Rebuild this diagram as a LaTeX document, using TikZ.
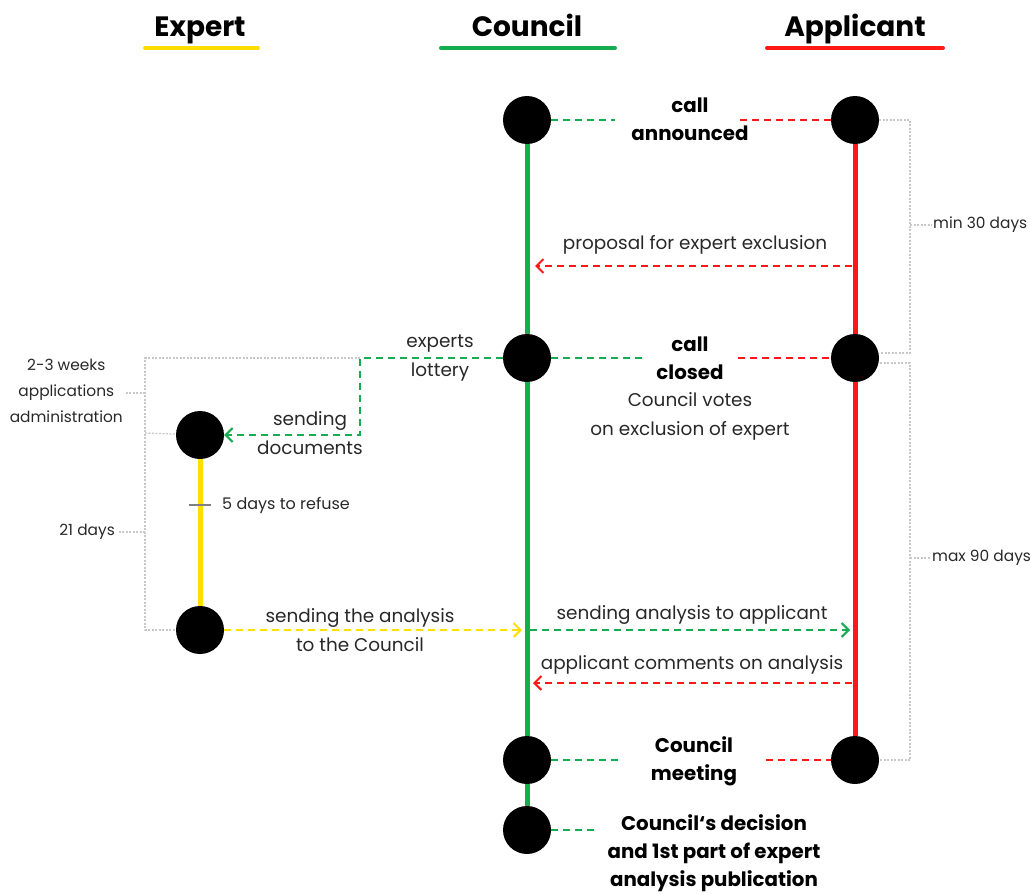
\documentclass[tikz,border=0pt]{standalone}
\usepackage{fontspec}
\setmainfont{Poppins}
\usetikzlibrary{arrows.meta}
\definecolor{cgreen}{RGB}{22,172,80}
\definecolor{cred}{RGB}{255,24,24}
\definecolor{cyellow}{RGB}{255,222,0}
\definecolor{cgrey}{RGB}{200,200,200}
\definecolor{ctext}{RGB}{40,40,40}
\tikzset{
  dot/.style={circle, fill=black, minimum size=48pt, inner sep=0pt},
  gline/.style={cgreen, line width=5pt},
  rline/.style={cred, line width=5pt},
  yline/.style={cyellow, line width=5pt},
  gdash/.style={cgreen, line width=2pt, dash pattern=on 7pt off 5pt},
  rdash/.style={cred, line width=2pt, dash pattern=on 7pt off 5pt},
  ydash/.style={cyellow, line width=2pt, dash pattern=on 7pt off 5pt},
  arr/.style={-{Straight Barb[length=7pt,width=14pt,line width=2pt]}},
  brk/.style={cgrey, line width=1.3pt, dash pattern=on 2pt off 1.5pt},
  lbl/.style={font=\fontsize{18.4}{29}\selectfont, align=center, text=ctext, inner sep=0pt},
  blbl/.style={font=\fontsize{19.8}{28}\selectfont\bfseries, align=center, text=black, inner sep=0pt},
  small/.style={font=\fontsize{15.4}{26}\selectfont, align=center, text=ctext, inner sep=0pt},
  head/.style={font=\fontsize{28}{30}\selectfont\bfseries, text=black, inner sep=0pt, anchor=base},
  uline/.style={line width=4pt, line cap=round},
}
\begin{document}
\begin{tikzpicture}[x=1pt,y=-1pt]
\useasboundingbox (0,0) rectangle (1031,894);
% headers
\node[head] (hE) at (200,36) {Expert};
\node[head] (hC) at (527,36) {Council};
\node[head] (hA) at (855,36) {Applicant};
\draw[uline, cyellow] (145,48) -- (258,48);
\draw[uline, cgreen] (441,48) -- (615,48);
\draw[uline, cred] (767,48) -- (943,48);

% dots
\node[dot] (e1) at (200,435) {};
\node[dot] (e2) at (200,630) {};
\node[dot] (c1) at (527,120) {};
\node[dot] (c2) at (527,358) {};
\node[dot] (c3) at (527,760) {};
\node[dot] (c4) at (527,830) {};
\node[dot] (a1) at (855,120) {};
\node[dot] (a2) at (855,358) {};
\node[dot] (a3) at (855,760) {};

% lifelines
\draw[gline] (c1) -- (c2) -- (c3) -- (c4);
\draw[rline] (a1) -- (a2) -- (a3);
\draw[yline] (e1) -- (e2);

% call announced
\coordinate (g1) at (615,120);
\coordinate (r1) at (740,120);
\draw[gdash] (c1) -- (g1);
\draw[rdash] (r1) -- (a1);
\node[blbl] (t1) at (690,119) {call\\announced};

% proposal
\coordinate (p1) at (852,266);
\coordinate (p2) at (535,266);
\draw[rdash, arr] (p1) -- (p2);
\node[lbl] (t2) at (695,245) {proposal for expert exclusion};

% call closed
\coordinate (g2) at (645,358);
\coordinate (r2) at (738,358);
\draw[gdash] (c2) -- (g2);
\draw[rdash] (r2) -- (a2);
\node[blbl] (t3) at (690,358) {call\\closed};
\node[lbl] (t4) at (690,416) {Council votes\\on exclusion of expert};

% lottery
\coordinate (lot) at (360,358);
\draw[gdash, arr] (c2) -- (lot) |- (e1);
\node[lbl] (t5) at (440,358) {experts\\lottery};
\node[lbl] (t6) at (310,433) {sending\\documents};

% five days
\coordinate (k1) at (189,505);
\coordinate (k2) at (211,505);
\draw[gray, line width=1.3pt] (k1) -- (k2);
\node[small, anchor=west, font=\fontsize{16}{26}\selectfont] (t7) at (222,505) {5 days to refuse};

% analysis to council
\coordinate (s1) at (522,630);
\draw[ydash, arr] (e2) -- (s1);
\node[lbl] (t8) at (360,630) {sending the analysis\\to the Council};

% analysis to applicant
\coordinate (s2) at (530,630);
\coordinate (s3) at (850,630);
\draw[gdash, arr] (s2) -- (s3);
\node[lbl] (t9) at (692,615) {sending analysis to applicant};

% comments
\coordinate (s4) at (852,683);
\coordinate (s5) at (533,683);
\draw[rdash, arr] (s4) -- (s5);
\node[lbl] (t10) at (692,665) {applicant comments on analysis};

% meeting
\coordinate (g3) at (620,760);
\coordinate (r3) at (766,760);
\draw[gdash] (c3) -- (g3);
\draw[rdash] (r3) -- (a3);
\node[blbl] (t11) at (694,761) {Council\\meeting};

% decision
\coordinate (g4) at (595,830);
\draw[gdash] (c4) -- (g4);
\node[blbl] (t12) at (714,853) {Council\char"60 s decision\\and 1st part of expert\\analysis publication};

% right brackets
\coordinate (b1) at (910,120);
\coordinate (b2) at (910,353);
\coordinate (b2e) at (880,353);
\draw[brk] (a1) -- (b1) -- (b2) -- (b2e);
\coordinate (m1) at (910,225);
\coordinate (m1e) at (932,225);
\draw[brk] (m1) -- (m1e);
\node[small, anchor=west] (t13) at (933,225) {min 30 days};
\coordinate (b3s) at (880,363);
\coordinate (b3) at (910,363);
\coordinate (b4) at (910,760);
\draw[brk] (b3s) -- (b3) -- (b4) -- (a3);
\coordinate (m2) at (910,558);
\coordinate (m2e) at (931,558);
\draw[brk] (m2) -- (m2e);
\node[small, anchor=west] (t14) at (932,558) {max 90 days};

% left brackets
\coordinate (l1) at (145,358);
\coordinate (l2) at (145,630);
\coordinate (l3) at (145,433);
\draw[brk] (lot) -- (l1) -- (l2) -- (e2);
\draw[brk] (l3) -- (e1);
\coordinate (n1) at (145,393);
\coordinate (n1e) at (125,393);
\draw[brk] (n1) -- (n1e);
\node[small, anchor=east] (t15) at (123,391) {2-3 weeks\\applications\\administration};
\coordinate (n2) at (145,532);
\coordinate (n2e) at (118,532);
\draw[brk] (n2) -- (n2e);
\node[small, anchor=east] (t16) at (115,532) {21 days};
\end{tikzpicture}
\end{document}
